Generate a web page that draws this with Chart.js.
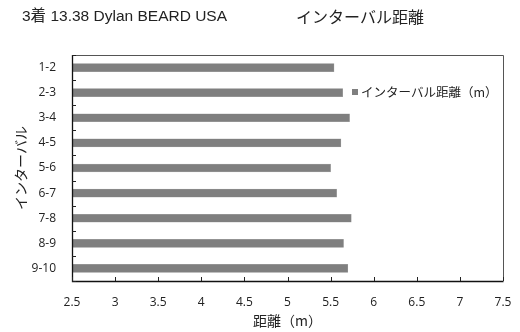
<!DOCTYPE html>
<html>
<head>
<meta charset="utf-8">
<script src="https://cdn.jsdelivr.net/npm/chart.js@4"></script>
<style>
  html, body { margin: 0; padding: 0; background: #fff; }
  #wrap { width: 520px; height: 332px; }
</style>
</head>
<body>
<div id="wrap"><canvas id="Graphc" width="520" height="332"></canvas></div>
<script>
var intervals = ['1-2', '2-3', '3-4', '4-5', '5-6', '6-7', '7-8', '8-9', '9-10'];
var distances = [5.54, 5.64, 5.72, 5.62, 5.50, 5.57, 5.74, 5.65, 5.70];
var xTicks = [2.5, 3, 3.5, 4, 4.5, 5, 5.5, 6, 6.5, 7, 7.5];
var seriesName = 'インターバル距離（m）';
var headLeft = '3着 13.38 Dylan BEARD USA';
var headRight = 'インターバル距離';

var jp = '"Noto Sans CJK JP", "Liberation Sans", sans-serif';
var latin = '"Liberation Sans", "Noto Sans CJK JP", sans-serif';
var num = '"Open Sans", "Liberation Sans", sans-serif';

// frame, inner tick marks, headings and the little legend
var decor = {
  id: 'decor',
  afterDraw: function(chart) {
    var ctx = chart.ctx, a = chart.chartArea;
    var xs = chart.scales.x, ys = chart.scales.y;
    ctx.save();
    ctx.strokeStyle = '#555';
    ctx.lineWidth = 1;
    ctx.beginPath();
    ctx.moveTo(a.left, a.top + 0.5); ctx.lineTo(a.right + 0.5, a.top + 0.5);
    ctx.lineTo(a.right + 0.5, a.bottom);
    ctx.stroke();
    ctx.strokeStyle = '#111';
    ctx.lineWidth = 1.3;
    ctx.beginPath();
    ctx.moveTo(a.left + 0.5, a.top); ctx.lineTo(a.left + 0.5, a.bottom + 0.5);
    ctx.lineTo(a.right + 0.5, a.bottom + 0.5);
    ctx.stroke();
    ctx.lineWidth = 1;
    ctx.strokeStyle = '#222';
    ctx.beginPath();
    xTicks.forEach(function(v) {
      var px = Math.round(xs.getPixelForValue(v)) + 0.5;
      ctx.moveTo(px, a.bottom); ctx.lineTo(px, a.bottom - 4);
    });
    for (var i = 0; i <= intervals.length; i++) {
      var py = Math.round(ys.getPixelForValue(i - 0.5)) + 0.5;
      ctx.moveTo(a.left, py); ctx.lineTo(a.left + 4, py);
    }
    ctx.stroke();

    ctx.fillStyle = '#222';
    ctx.textBaseline = 'middle';
    ctx.textAlign = 'left';
    ctx.font = '15.5px ' + latin;
    ctx.fillText(headLeft, 22, 17);
    ctx.font = '16px ' + jp;
    ctx.fillText(headRight, 296, 17);

    ctx.fillStyle = '#7f7f7f';
    ctx.fillRect(352, 89, 6, 6);
    ctx.fillStyle = '#222';
    ctx.font = '12.5px ' + jp;
    ctx.fillText(seriesName, 361, 92);
    ctx.restore();
  }
};

var ctx = document.getElementById('Graphc').getContext('2d');
var chart = new Chart(ctx, {
  type: 'bar',
  data: {
    labels: intervals,
    datasets: [{
      label: seriesName,
      data: distances,
      backgroundColor: '#7f7f7f',
      borderColor: '#a8a8a8',
      borderWidth: 0.5,
      barThickness: 8
    }]
  },
  plugins: [decor],
  options: {
    indexAxis: 'y',
    responsive: false,
    animation: false,
    layout: { padding: { top: 55, right: 17, left: 0, bottom: 0 } },
    plugins: {
      legend: { display: false },
      tooltip: { enabled: false }
    },
    scales: {
      x: {
        type: 'linear',
        min: 2.5,
        max: 7.5,
        afterBuildTicks: function(s) { s.ticks = xTicks.map(function(v) { return { value: v }; }); },
        afterFit: function(s) { s.height = 51; },
        grid: { display: false },
        border: { display: false },
        ticks: {
          color: '#222',
          font: { family: num, size: 12 },
          padding: 6,
          maxRotation: 0,
          callback: function(v) { return String(v); }
        },
        title: {
          display: true,
          text: '距離（m）',
          color: '#222',
          font: { family: jp, size: 14 },
          padding: { top: 0, bottom: 3 }
        }
      },
      y: {
        afterFit: function(s) { s.width = 72; },
        grid: { display: false },
        border: { display: false },
        ticks: {
          color: '#222',
          font: { family: num, size: 12 },
          padding: 8
        },
        title: {
          display: true,
          text: 'インターバル',
          color: '#222',
          font: { family: jp, size: 14 },
          padding: { top: 12, bottom: 4 }
        }
      }
    }
  }
});
</script>
</body>
</html>
